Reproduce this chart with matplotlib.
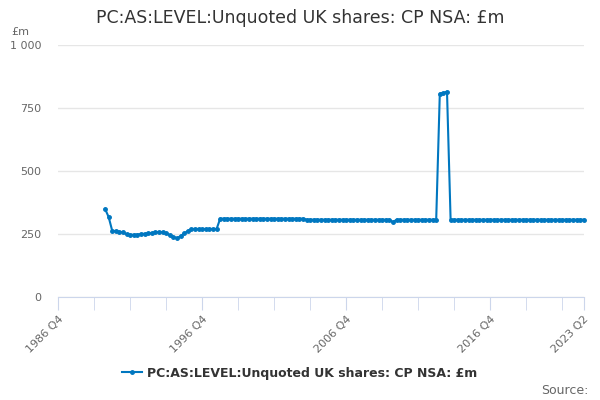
import matplotlib.pyplot as plt
from matplotlib.lines import Line2D

# quarterly series, 1990 Q1 .. 2023 Q2
start_year = 1990
values = [
    350, 318, 263, 261,   # 1990
    259, 256, 249, 247,   # 1991
    247, 248, 250, 251,   # 1992
    252, 254, 257, 258,   # 1993
    257, 252, 246, 239,   # 1994
    233, 242, 252, 262,   # 1995
    270, 270, 270, 270,   # 1996
    270, 270, 270, 270,   # 1997
    311, 311, 311, 311,   # 1998
    311, 311, 311, 311,   # 1999
    311, 311, 311, 311,   # 2000
    311, 311, 311, 311,   # 2001
    311, 311, 311, 311,   # 2002
    311, 311, 311, 311,   # 2003
    307, 307, 307, 307,   # 2004
    307, 307, 307, 307,   # 2005
    307, 307, 307, 307,   # 2006
    307, 307, 307, 307,   # 2007
    307, 307, 307, 307,   # 2008
    307, 307, 307, 307,   # 2009
    297, 307, 307, 307,   # 2010
    307, 307, 307, 307,   # 2011
    307, 307, 307, 307,   # 2012
    307, 807, 810, 815,   # 2013
    307, 307, 307, 307,   # 2014
    307, 307, 307, 307,   # 2015
    307, 307, 307, 307,   # 2016
    307, 307, 307, 307,   # 2017
    307, 307, 307, 307,   # 2018
    307, 307, 307, 307,   # 2019
    307, 307, 307, 307,   # 2020
    307, 307, 307, 307,   # 2021
    307, 307, 307, 307,   # 2022
    307, 307,             # 2023
]

# axis runs from 1986 Q4 to 2023 Q2
axis_start = (1986, 4)
axis_end = (2023, 2)
label_quarters = ["1986 Q4", "1996 Q4", "2006 Q4", "2016 Q4", "2023 Q2"]
y_ticks = [0, 250, 500, 750, 1000]
y_labels = ["0", "250", "500", "750", "1 000"]
title = "PC:AS:LEVEL:Unquoted UK shares: CP NSA: £m"


def q_index(year, q):
    return (year - axis_start[0]) * 4 + (q - axis_start[1])


def parse_q(s):
    y, q = s.split(" Q")
    return q_index(int(y), int(q))


x = [q_index(start_year, 1) + i for i in range(len(values))]
x_max = q_index(*axis_end)

color = "#0077c0"
fig = plt.figure(figsize=(6, 4), dpi=100)
ax = fig.add_axes([0.097, 0.2575, 0.876, 0.63])

ax.plot(x, values, color=color, linewidth=1.5, marker="o", markersize=2.5,
        clip_on=False, zorder=3)

ax.set_xlim(0, x_max)
ax.set_ylim(0, 1000)

ax.set_yticks(y_ticks)
ax.set_yticklabels(y_labels)
ax.yaxis.grid(True, color="#e6e6e6", linewidth=1)
ax.set_axisbelow(True)

minor = list(range(0, x_max, 10)) + [x_max]
ax.set_xticks(minor, minor=True)
ax.set_xticks([parse_q(s) for s in label_quarters])
ax.set_xticklabels(label_quarters, rotation=45, ha="right", rotation_mode="anchor")

for s in ["top", "right", "left"]:
    ax.spines[s].set_visible(False)
ax.spines["bottom"].set_color("#ccd6eb")
ax.tick_params(axis="y", length=0, labelsize=8, labelcolor="#666666", pad=12)
ax.tick_params(axis="x", which="both", length=9, color="#ccd6eb", labelsize=8,
               labelcolor="#666666", pad=3)

fig.text(0.5, 0.955, title, ha="center", va="center", fontsize=12.5, color="#333333")
fig.text(0.018, 0.92, "£m", ha="left", va="center", fontsize=8, color="#666666")
fig.text(0.98, 0.025, "Source:", ha="right", va="center", fontsize=9, color="#666666")

handle = Line2D([], [], color=color, linewidth=1.5, marker="o", markersize=2.5)
fig.legend([handle], [title], loc="center", bbox_to_anchor=(0.5, 0.067), frameon=False,
           prop={"size": 9, "weight": "bold"}, labelcolor="#333333", handlelength=1.6,
           handletextpad=0.4)

fig.savefig("out.png", dpi=100)
